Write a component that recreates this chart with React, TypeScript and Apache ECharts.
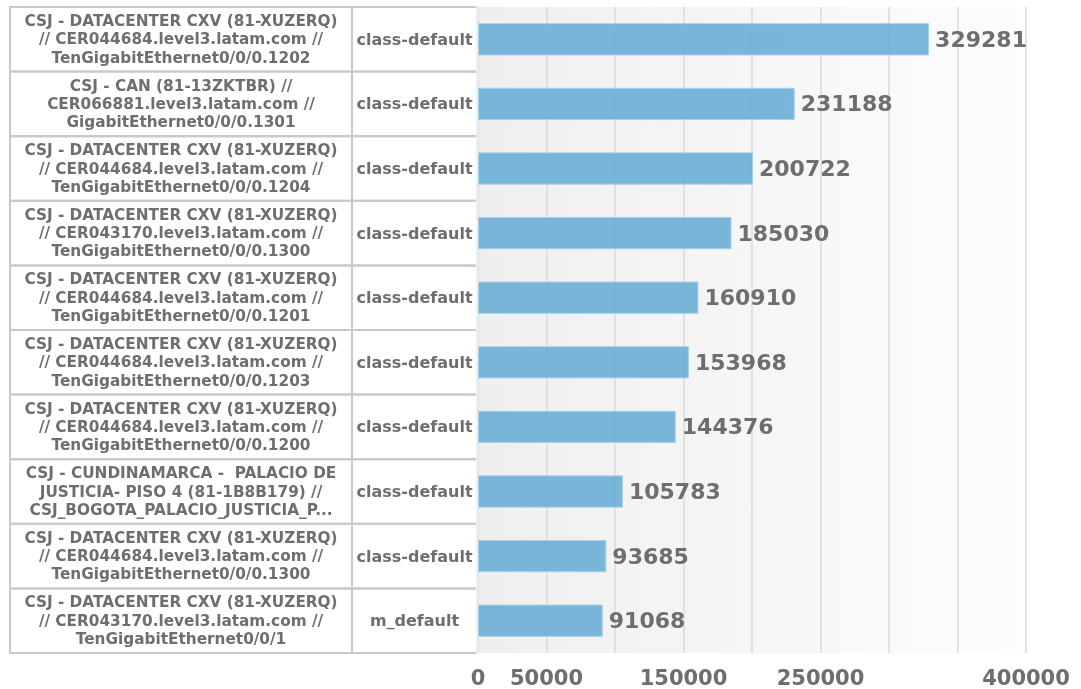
import React, { useEffect, useRef } from "react";
import * as echarts from "echarts";

const interfaces: string[] = [
  "CSJ - DATACENTER CXV (81-XUZERQ)\n// CER044684.level3.latam.com //\nTenGigabitEthernet0/0/0.1202",
  "CSJ - CAN (81-13ZKTBR) //\nCER066881.level3.latam.com //\nGigabitEthernet0/0/0.1301",
  "CSJ - DATACENTER CXV (81-XUZERQ)\n// CER044684.level3.latam.com //\nTenGigabitEthernet0/0/0.1204",
  "CSJ - DATACENTER CXV (81-XUZERQ)\n// CER043170.level3.latam.com //\nTenGigabitEthernet0/0/0.1300",
  "CSJ - DATACENTER CXV (81-XUZERQ)\n// CER044684.level3.latam.com //\nTenGigabitEthernet0/0/0.1201",
  "CSJ - DATACENTER CXV (81-XUZERQ)\n// CER044684.level3.latam.com //\nTenGigabitEthernet0/0/0.1203",
  "CSJ - DATACENTER CXV (81-XUZERQ)\n// CER044684.level3.latam.com //\nTenGigabitEthernet0/0/0.1200",
  "CSJ - CUNDINAMARCA -  PALACIO DE\nJUSTICIA- PISO 4 (81-1B8B179) //\nCSJ_BOGOTA_PALACIO_JUSTICIA_P...",
  "CSJ - DATACENTER CXV (81-XUZERQ)\n// CER044684.level3.latam.com //\nTenGigabitEthernet0/0/0.1300",
  "CSJ - DATACENTER CXV (81-XUZERQ)\n// CER043170.level3.latam.com //\nTenGigabitEthernet0/0/1",
];

const classes: string[] = [
  "class-default",
  "class-default",
  "class-default",
  "class-default",
  "class-default",
  "class-default",
  "class-default",
  "class-default",
  "class-default",
  "m_default",
];

const values: number[] = [329281, 231188, 200722, 185030, 160910, 153968, 144376, 105783, 93685, 91068];

const shownTicks: number[] = [0, 50000, 150000, 250000, 400000];

export default function App() {
  const ref = useRef<HTMLDivElement>(null);

  useEffect(() => {
    if (!ref.current) return;
    const chart = echarts.init(ref.current, undefined, { renderer: "svg" });
    const gridTop = 7;
    const gridBottom = 36;
    const gridLeft = 478;
    const rowH = (689 - gridTop - gridBottom) / interfaces.length;
    const textColor = "#6e6e6e";
    const borderColor = "#c9c9c9";
    const bgStart = "#efefef";

    chart.setOption({
      animation: false,
      grid: {
        left: gridLeft,
        right: 55,
        top: gridTop,
        bottom: gridBottom,
        containLabel: false,
        outerBoundsMode: "none",
        show: true,
        borderWidth: 0,
        backgroundColor: new echarts.graphic.LinearGradient(0, 0, 1, 0, [
          { offset: 0, color: bgStart },
          { offset: 1, color: "#fdfdfd" },
        ]),
      },
      graphic: [
        {
          type: "rect",
          z: 100,
          shape: { x: gridLeft - 2.2, y: gridTop - 2, width: 2.2, height: 689 - gridTop - gridBottom + 4 },
          style: { fill: bgStart },
          silent: true,
        },
      ],
      xAxis: {
        type: "value",
        min: 0,
        max: 400000,
        interval: 50000,
        axisLine: { show: false },
        axisTick: { show: false },
        splitLine: { show: true, lineStyle: { color: "#dadada", width: 1.5 } },
        axisLabel: {
          show: true,
          color: textColor,
          fontFamily: "DejaVu Sans",
          fontWeight: "bold",
          fontSize: 21,
          margin: 14,
          formatter: (v: number) => (shownTicks.indexOf(v) >= 0 ? String(v) : ""),
        },
      },
      yAxis: [
        {
          type: "category",
          inverse: true,
          data: interfaces,
          position: "left",
          axisLine: { show: false },
          axisTick: { show: true, length: 8, lineStyle: { color: "#bdbdbd", width: 1.5 } },
          splitLine: { show: false },
          axisLabel: {
            interval: 0,
            margin: gridLeft - 181,
            align: "center",
            verticalAlign: "middle",
            width: 342,
            height: rowH,
            lineHeight: 18.3,
            borderColor: borderColor,
            borderWidth: 2,
            color: textColor,
            fontFamily: "DejaVu Sans",
            fontWeight: "bold",
            fontSize: 15.3,
          },
        },
        {
          type: "category",
          inverse: true,
          data: classes,
          position: "left",
          axisLine: { show: false },
          axisTick: { show: false },
          splitLine: { show: false },
          axisLabel: {
            interval: 0,
            margin: gridLeft - 414.5,
            align: "center",
            verticalAlign: "middle",
            width: 125,
            height: rowH,
            borderColor: borderColor,
            borderWidth: 2,
            color: textColor,
            fontFamily: "DejaVu Sans",
            fontWeight: "bold",
            fontSize: 16,
          },
        },
      ],
      series: [
        {
          type: "bar",
          yAxisIndex: 0,
          data: values,
          barWidth: "50%",
          itemStyle: {
            color: "rgba(107,174,214,0.9)",
            borderColor: "#a9d1ea",
            borderWidth: 1,
          },
          label: {
            show: true,
            position: "right",
            distance: 6,
            color: textColor,
            fontFamily: "DejaVu Sans",
            fontWeight: "bold",
            fontSize: 22,
          },
        },
      ],
    });

    return () => chart.dispose();
  }, []);

  return (
    <div
      ref={ref}
      style={{ position: "fixed", left: 0, top: 0, width: 1081, height: 689 }}
    />
  );
}
